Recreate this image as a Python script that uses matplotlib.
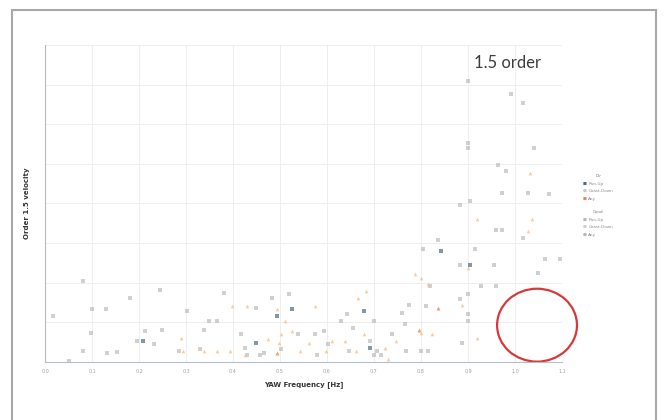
import numpy as np
import matplotlib.pyplot as plt
from matplotlib.patches import Ellipse, Rectangle

# yaw frequency [Hz] / order 1.5 velocity, split by marker colour
gray_x = [0.900, 0.991, 1.018, 0.900, 0.900, 1.041, 0.964, 0.982, 0.973, 1.027,
          1.072, 0.882, 0.905, 0.959, 0.973, 1.018, 0.837, 0.805, 0.914, 1.063,
          1.095, 0.882, 0.955, 1.050, 0.928, 0.959, 0.819, 0.882, 0.900, 0.900,
          0.900, 0.887, 0.814, 0.081, 0.244, 0.181, 0.100, 0.129, 0.018, 0.097,
          0.081, 0.131, 0.154, 0.050, 0.195, 0.213, 0.249, 0.231, 0.303, 0.380,
          0.348, 0.367, 0.339, 0.285, 0.430, 0.466, 0.502, 0.448, 0.520, 0.484,
          0.538, 0.575, 0.602, 0.629, 0.643, 0.647, 0.692, 0.701, 0.706, 0.715,
          0.738, 0.760, 0.765, 0.769, 0.774, 0.801, 0.701, 0.656, 0.593, 0.579,
          0.457, 0.416, 0.425, 0.330, 0.810]
gray_y = [7.08, 6.75, 6.54, 5.53, 5.40, 5.40, 4.98, 4.82, 4.27, 4.27,
          4.23, 3.97, 4.06, 3.34, 3.34, 3.13, 3.09, 2.84, 2.84, 2.59,
          2.59, 2.46, 2.46, 2.25, 1.92, 1.92, 1.92, 1.58, 1.71, 1.20,
          1.03, 0.49, 0.28, 2.04, 1.83, 1.62, 1.33, 1.33, 1.16, 0.74,
          0.28, 0.24, 0.26, 0.03, 0.53, 0.78, 0.82, 0.45, 1.29, 1.75,
          1.03, 1.03, 0.82, 0.28, 0.19, 0.24, 0.32, 1.37, 1.71, 1.62,
          0.70, 0.70, 0.45, 1.03, 1.20, 0.28, 0.53, 1.03, 0.28, 0.19,
          0.70, 1.24, 0.95, 0.28, 1.45, 0.28, 0.19, 0.87, 0.78, 0.19,
          0.19, 0.70, 0.36, 0.32, 1.41]

orange_x = [1.032, 0.919, 1.036, 1.027, 0.801, 0.814, 0.787, 0.887, 0.837, 0.796,
            0.801, 0.824, 0.919, 0.290, 0.339, 0.367, 0.394, 0.493, 0.398, 0.430,
            0.475, 0.498, 0.502, 0.493, 0.511, 0.525, 0.543, 0.561, 0.575, 0.597,
            0.611, 0.638, 0.661, 0.683, 0.679, 0.724, 0.729, 0.747, 0.665, 0.900,
            0.294, 0.425]
orange_y = [4.77, 3.60, 3.60, 3.30, 2.13, 1.96, 2.21, 1.45, 1.37, 0.82,
            0.74, 0.70, 0.61, 0.61, 0.28, 0.28, 0.28, 0.24, 1.41, 1.41,
            0.57, 0.49, 0.70, 1.33, 1.03, 0.78, 0.28, 0.49, 1.41, 0.28,
            0.53, 0.53, 0.28, 1.79, 0.70, 0.36, 0.07, 0.53, 1.62, 2.38,
            0.28, 0.19]

dark_x = [0.842, 0.905, 0.208, 0.448, 0.493, 0.525, 0.679, 0.692]
dark_y = [2.80, 2.46, 0.53, 0.49, 1.16, 1.33, 1.29, 0.36]

red_x = [0.796, 0.493, 0.837]
red_y = [0.80, 0.24, 1.37]

xticks = np.arange(0, 1.15, 0.1)
xlabels = ['%.1f' % v for v in xticks]

fig = plt.figure(figsize=(6.67, 4.2), dpi=100)
ax = fig.add_axes([0.0675, 0.138, 0.775, 0.755])

ax.scatter(gray_x, gray_y, s=6, marker='s', color='#bcbcbc', alpha=0.7, lw=0)
ax.scatter(orange_x, orange_y, s=7, marker='^', color='#f5c08a', alpha=0.8, lw=0)
ax.scatter(red_x, red_y, s=8, marker='^', color='#eb9a72', alpha=0.8, lw=0)
ax.scatter(dark_x, dark_y, s=7, marker='s', color='#647f90', alpha=0.8, lw=0)

ax.set_xlim(0, 1.1)
ax.set_ylim(0, 8)
ax.set_xticks(xticks)
ax.set_xticklabels(xlabels, fontsize=3.5, color='#a0a0a0')
ax.set_yticks(np.arange(0, 9, 1))
ax.set_yticklabels([])
ax.tick_params(length=0, pad=5)
ax.grid(True, color='#ebebeb', lw=0.6)
ax.set_axisbelow(True)
for s in ['top', 'right']:
    ax.spines[s].set_visible(False)
ax.spines['left'].set_color('#b8b8b8')
ax.spines['bottom'].set_color('#aec0ce')

ax.set_xlabel('YAW Frequency [Hz]', fontsize=5, fontweight='bold', color='#333333', labelpad=5)
ax.set_ylabel('Order 1.5 velocity', fontsize=5, fontweight='bold', color='#333333', labelpad=6)

ax.text(0.985, 7.55, '1.5 order', fontsize=12, family='Lato', color='#3c3c3c',
        ha='center', va='center')

# highlight of the empty region
ax.add_patch(Ellipse((1.047, 0.93), 0.170, 1.84, fill=False, ec='#d8383a', lw=1.6, clip_on=False))

# small legend on the right
def legend_block(y0, title, names, colors):
    fig.text(0.897, y0, title, fontsize=3, color='#777777', ha='center')
    for i, (n, c) in enumerate(zip(names, colors)):
        yy = y0 - 0.018 * (i + 1)
        fig.text(0.874, yy, '\u25a0', fontsize=3, color=c)
        fig.text(0.882, yy, n, fontsize=3, color='#8a8a8a')

legend_block(0.578, 'Dir', ['Run-Up', 'Coast-Down', 'Any'], ['#4f6b80', '#c8c8c8', '#e8875c'])
legend_block(0.493, 'Cond', ['Run-Up', 'Coast-Down', 'Any'], ['#b8b8b8', '#d0d0d0', '#b8b8b8'])

# outer frame
fig.add_artist(Rectangle((0.018, -0.05), 0.966, 1.026, transform=fig.transFigure,
                         fill=False, ec='#a8a8a8', lw=1.5))

plt.savefig('out.png', dpi=100)
